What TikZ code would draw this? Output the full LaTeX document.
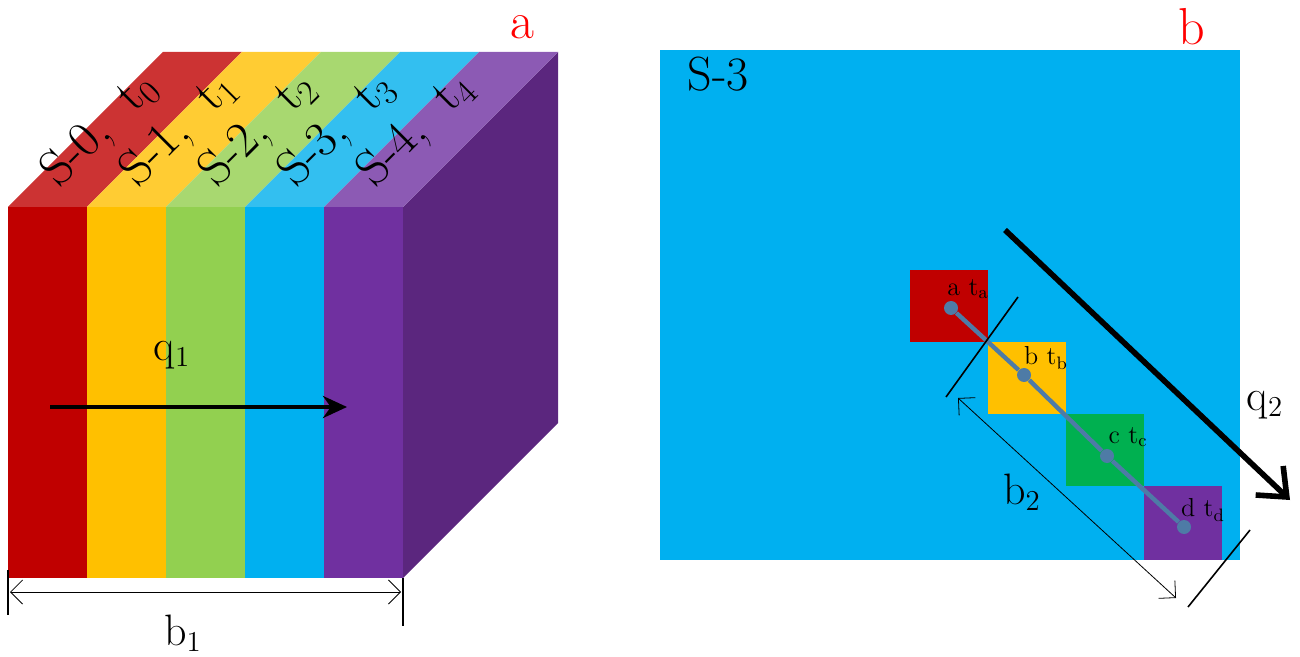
\documentclass[tikz,border=0pt]{standalone}
\usetikzlibrary{arrows.meta}
\definecolor{cR}{HTML}{C00000}\definecolor{cO}{HTML}{FFC000}\definecolor{cG}{HTML}{92D050}
\definecolor{cB}{HTML}{00B0F0}\definecolor{cP}{HTML}{7030A0}
\definecolor{tR}{HTML}{CC3333}\definecolor{tO}{HTML}{FFCC33}\definecolor{tG}{HTML}{A8D870}
\definecolor{tB}{HTML}{33BFF0}\definecolor{tP}{HTML}{8C5AB4}
\definecolor{side}{HTML}{5B267E}\definecolor{sq}{HTML}{00B050}\definecolor{lnk}{HTML}{4E7BA6}
\begin{document}
\begin{tikzpicture}[x=0.5pt,y=-0.5pt,
  big/.style={font=\fontsize{22}{24}\selectfont},
  rl/.style={font=\fontsize{25}{27}\selectfont,inner sep=0pt},
  sm/.style={font=\fontsize{13}{14}\selectfont},
  dot/.style={circle,fill=lnk,inner sep=0pt,minimum size=7pt}]
\useasboundingbox (0,0) rectangle (1300,657);
% panel a
\fill[side] (403,207) -- (558,52) -- (558,423) -- (403,578) -- cycle;
\foreach \i/\f/\t in {0/cR/tR,1/cO/tO,2/cG/tG,3/cB/tB,4/cP/tP}{
  \pgfmathsetmacro\xa{8+79*\i}\pgfmathsetmacro\xb{8+79*(\i+1)}
  \fill[\f] (\xa,207) rectangle (\xb,578);
  \fill[\t] (\xa,207) -- (\xa+155,52) -- (\xb+155,52) -- (\xb,207) -- cycle;
}
\foreach \i/\s in {0/0,1/1,2/2,3/3,4/4}{
  \pgfmathsetmacro\xc{8+79*\i+40+52}
  \node[rl,rotate=45] (lab\i) at (\xc,130) {S-\s,\ \ t$_{\mathrm{\s}}$};
}
\node[big,text=red,font=\fontsize{26}{28}\selectfont] (la) at (522,27) {a};
\node[big] (q1) at (172,355) {q$_{\mathrm 1}$};
\coordinate (q1s) at (50,407); \coordinate (q1e) at (347,407);
\draw[line width=2.2pt,-{Stealth[length=12pt,width=11pt]}] (q1s) -- (q1e);
\coordinate (t1a) at (8,570); \coordinate (t1b) at (8,615);
\coordinate (t2a) at (403,578); \coordinate (t2b) at (403,626);
\draw[thick] (t1a) -- (t1b); \draw[thick] (t2a) -- (t2b);
\coordinate (b1s) at (10,592); \coordinate (b1e) at (401,592);
\draw[{Straight Barb[length=6pt]}-{Straight Barb[length=6pt]}] (b1s) -- (b1e);
\node[big] (b1) at (183,633) {b$_{\mathrm 1}$};
% panel b
\fill[cB] (660,50) rectangle (1240,560);
\node[big,text=red,font=\fontsize{26}{28}\selectfont] (lb) at (1192,27) {b};
\node[big,font=\fontsize{24}{26}\selectfont] (s3) at (718,74) {S-3};
\fill[cR] (910,270) rectangle (988,342);
\fill[cO] (988,342) rectangle (1066,414);
\fill[sq] (1066,414) rectangle (1144,486);
\fill[cP] (1144,486) rectangle (1222,560);
\node[dot] (da) at (951,308) {}; \node[dot] (db) at (1024,375) {};
\node[dot] (dc) at (1107,456) {}; \node[dot] (dd) at (1184,527) {};
\draw[lnk,line width=2.2pt] (da) -- (db) -- (dc) -- (dd);
\node[sm] (la2) at (968,289) {a\ t$_{\mathrm a}$};
\node[sm] (lb2) at (1046,358) {b\ t$_{\mathrm b}$};
\node[sm] (lc2) at (1128,437) {c\ t$_{\mathrm c}$};
\node[sm] (ld2) at (1203,510) {d\ t$_{\mathrm d}$};
\coordinate (q2s) at (1005,230); \coordinate (q2e) at (1290,500);
\draw[line width=2.8pt,-{Straight Barb[length=12pt,width=20pt]}] (q2s) -- (q2e);
\node[big] (q2) at (1265,405) {q$_{\mathrm 2}$};
\coordinate (k1a) at (1018,297); \coordinate (k1b) at (946,397);
\coordinate (k2a) at (1250,530); \coordinate (k2b) at (1188,607);
\draw[thick] (k1a) -- (k1b); \draw[thick] (k2a) -- (k2b);
\coordinate (b2s) at (958,398); \coordinate (b2e) at (1176,598);
\draw[{Straight Barb[length=6pt]}-{Straight Barb[length=6pt]}] (b2s) -- (b2e);
\node[big] (b2) at (1022,492) {b$_{\mathrm 2}$};
\end{tikzpicture}
\end{document}
